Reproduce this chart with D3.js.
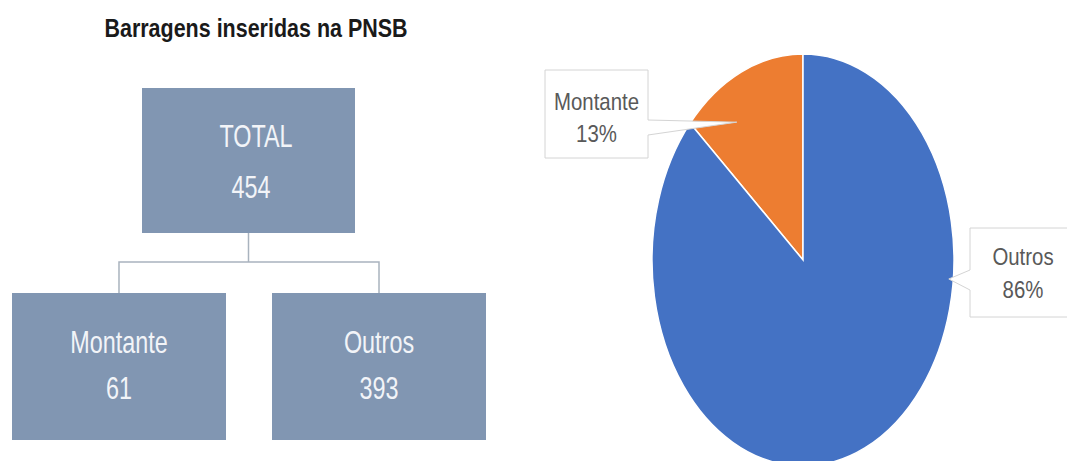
<!DOCTYPE html>
<html>
<head>
<meta charset="utf-8">
<script src="https://cdn.jsdelivr.net/npm/d3@7"></script>
<style>
  body { margin: 0; background: #fff; }
  svg { display: block; }
  .narrow { font-family: "Liberation Sans", Arial, sans-serif; }
</style>
</head>
<body>
<svg id="chart" width="1067" height="461"></svg>
<script>
// dados
const title = "Barragens inseridas na PNSB";
const rootLabel = "TOTAL";
const categories = ["Montante", "Outros"];
const values = [61, 393];
const colors = ["#ED7D31", "#4472C4"];

const svg = d3.select("#chart");
const total = d3.sum(values);
const squeeze = 0.85; // fonte condensada (Arial Narrow na original)

// ---- organograma (esquerda)
const boxFill = "#8196B2";
const lineColor = "#A9B3BE";

svg.append("text")
  .attr("class", "narrow")
  .attr("transform", `translate(256,37) scale(0.895,1.05)`)
  .attr("text-anchor", "middle")
  .style("font-size", "24px")
  .style("font-weight", "bold")
  .style("fill", "#1a1a1a")
  .text(title);

const root = { x: 142, y: 88, w: 213, h: 145 };
const childY = 293, childH = 147;

const xBand = d3.scaleBand()
  .domain(categories)
  .range([12, 486])
  .paddingInner(0.177);

const midX = root.x + root.w / 2;
const joinY = 262;

// linhas de ligação
svg.append("path")
  .attr("d", `M${midX},${root.y + root.h}V${joinY}`)
  .attr("stroke", lineColor).attr("stroke-width", 1.5).attr("fill", "none");

svg.append("path")
  .attr("d", `M${xBand(categories[0]) + xBand.bandwidth() / 2},${childY}V${joinY}H${xBand(categories[1]) + xBand.bandwidth() / 2}V${childY}`)
  .attr("stroke", lineColor).attr("stroke-width", 1.5).attr("fill", "none");

svg.append("rect")
  .attr("x", root.x).attr("y", root.y)
  .attr("width", root.w).attr("height", root.h)
  .attr("fill", boxFill);

function boxText(x, y, txt) {
  svg.append("text")
    .attr("class", "narrow")
    .attr("transform", `translate(${x},${y}) scale(${squeeze},1.15)`)
    .attr("text-anchor", "middle")
    .style("font-size", "27.5px")
    .style("fill", "#F2F4F8")
    .text(txt);
}

boxText(midX + 7.5, 147, rootLabel);
boxText(midX + 2.5, 198, total);

svg.selectAll(".kid")
  .data(categories.map((c, i) => ({ name: c, value: values[i] })))
  .enter()
  .append("rect")
  .attr("class", "kid")
  .attr("x", d => xBand(d.name))
  .attr("y", childY)
  .attr("width", xBand.bandwidth())
  .attr("height", childH)
  .attr("fill", boxFill);

categories.forEach((c, i) => {
  const cx = xBand(c) + xBand.bandwidth() / 2;
  boxText(cx, 353, c);
  boxText(cx, 399, values[i]);
});

// ---- pizza (direita), elíptica como na imagem
const cx = 803, cy = 260, rx = 151, ry = 206;

const pie = d3.pie()
  .sort(null)
  .startAngle(0)
  .endAngle(-2 * Math.PI)
  .value(d => d);

const arcs = pie(values);
const arc = d3.arc().innerRadius(0).outerRadius(rx);

const pieG = svg.append("g")
  .attr("transform", `translate(${cx},${cy}) scale(1,${ry / rx})`);

pieG.selectAll("path")
  .data(arcs)
  .enter()
  .append("path")
  .attr("d", arc)
  .attr("fill", (d, i) => colors[i])
  .attr("stroke", "#fff")
  .attr("stroke-width", 1.5)
  .attr("vector-effect", "non-scaling-stroke");

// ponto na elipse para um ângulo (0 = topo) e fração do raio
function polar(a, f) {
  return [cx + Math.sin(a) * rx * f, cy - Math.cos(a) * ry * f];
}

// callouts
const callouts = [
  { box: [545, 70, 103, 88], side: "right", base: [120, 135], tip: polar(-0.58, 0.8), ty: [110, 142] },
  { box: [970, 228, 106, 89], side: "left", base: [270, 290], tip: polar(1.666, 0.97), ty: [265, 298] }
];

callouts.forEach((c, i) => {
  const [x, y, w, h] = c.box;
  let d;
  if (c.side === "right") {
    d = `M${x},${y}H${x + w}V${c.base[0]}L${c.tip[0]},${c.tip[1]}L${x + w},${c.base[1]}V${y + h}H${x}Z`;
  } else {
    d = `M${x},${y}H${x + w}V${y + h}H${x}V${c.base[1]}L${c.tip[0]},${c.tip[1]}L${x},${c.base[0]}Z`;
  }
  svg.append("path")
    .attr("d", d)
    .attr("fill", "#fff")
    .attr("stroke", "#D4D4D4")
    .attr("stroke-width", 1);

  const pct = Math.floor(values[i] / total * 100) + "%";
  [categories[i], pct].forEach((t, j) => {
    svg.append("text")
      .attr("class", "narrow")
      .attr("transform", `translate(${x + w / 2},${c.ty[j]}) scale(${squeeze},1)`)
      .attr("text-anchor", "middle")
      .style("font-size", "24px")
      .style("fill", "#595959")
      .text(t);
  });
});
</script>
</body>
</html>
